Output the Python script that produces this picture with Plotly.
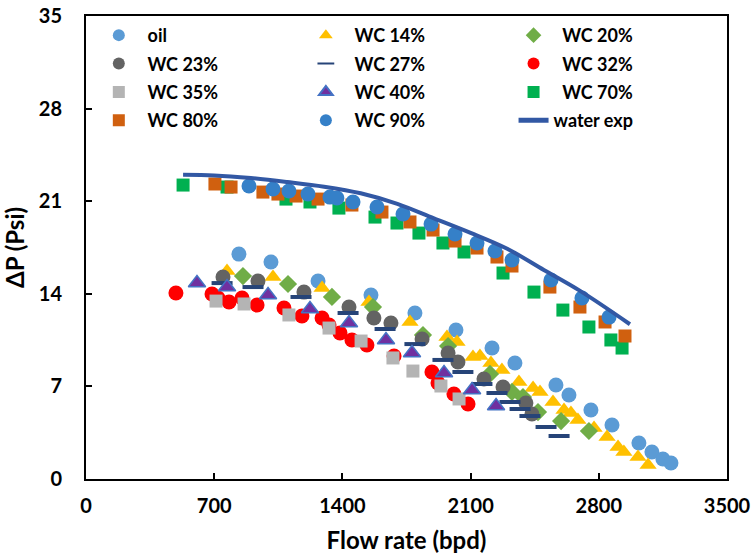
import plotly.graph_objects as go

# ---------------- data ----------------
oil_x = [835, 1010, 1267, 1556, 1796, 2020, 2217, 2342, 2566, 2637, 2757, 2872, 3019, 3090, 3150, 3194]
oil_y = [17.0, 16.4, 14.97, 13.9, 12.55, 11.26, 9.9, 8.77, 7.11, 6.35, 5.22, 4.08, 2.72, 2.04, 1.51, 1.21]

wc14_x = [770, 1021, 1289, 1545, 1769, 1971, 2026, 2113, 2151, 2211, 2271, 2364, 2441, 2479, 2550, 2610, 2648, 2686, 2774, 2845, 2905, 2937, 3014, 3069]
wc14_y = [15.72, 15.27, 14.44, 13.38, 11.87, 10.73, 10.36, 9.22, 9.3, 8.77, 8.24, 7.33, 6.88, 6.58, 5.82, 5.22, 4.99, 4.46, 3.85, 3.17, 2.42, 2.04, 1.66, 1.06]

wc20_x = [857, 1103, 1343, 1567, 1840, 1977, 2206, 2326, 2386, 2468, 2594, 2746]
wc20_y = [15.34, 14.74, 13.76, 13.0, 10.88, 10.05, 7.94, 6.58, 6.2, 5.06, 4.38, 3.63]

wc23_x = [748, 939, 1190, 1436, 1572, 1665, 1835, 1977, 2031, 2173, 2277, 2402, 2435]
wc23_y = [15.27, 14.97, 14.13, 13.0, 12.17, 11.79, 10.58, 9.52, 8.84, 7.56, 6.95, 5.74, 4.91]

wc27_x = [743, 912, 1174, 1431, 1633, 1796, 1949, 2058, 2162, 2244, 2315, 2370, 2424, 2512, 2583]
wc27_y = [14.81, 14.51, 13.76, 12.55, 11.34, 10.2, 9.0, 8.09, 7.18, 6.5, 5.82, 5.29, 4.76, 3.93, 3.25]

wc32_x = [491, 688, 721, 781, 852, 934, 1081, 1179, 1289, 1327, 1387, 1452, 1534, 1682, 1889, 1922, 2009, 2086]
wc32_y = [14.06, 13.98, 13.68, 13.38, 13.68, 13.15, 12.93, 12.32, 12.17, 11.64, 11.04, 10.51, 10.13, 9.3, 8.09, 7.26, 6.42, 5.67]

wc35_x = [710, 863, 1108, 1327, 1502, 1676, 1785, 1938, 2037]
wc35_y = [13.45, 13.23, 12.4, 11.41, 10.43, 9.15, 8.16, 7.03, 6.05]

wc40_x = [606, 770, 994, 1223, 1436, 1638, 1780, 1955, 2108, 2239]
wc40_y = [14.81, 14.51, 13.91, 12.85, 11.79, 10.51, 9.52, 8.01, 6.73, 5.52]

wc70_x = [530, 770, 1092, 1223, 1381, 1578, 1698, 1818, 1949, 2064, 2277, 2446, 2604, 2746, 2866, 2927]
wc70_y = [22.22, 22.07, 21.16, 20.94, 20.48, 19.8, 19.35, 18.59, 17.84, 17.16, 15.57, 14.13, 12.77, 11.49, 10.51, 9.9]

wc80_x = [704, 792, 966, 1048, 1147, 1267, 1452, 1616, 1769, 1895, 2015, 2135, 2244, 2326, 2533, 2697, 2834, 2943]
wc80_y = [22.3, 22.07, 21.69, 21.54, 21.39, 21.16, 20.71, 20.18, 19.43, 18.82, 17.99, 17.46, 16.78, 16.1, 14.51, 13.0, 11.87, 10.81]

wc90_x = [890, 1021, 1108, 1212, 1332, 1370, 1458, 1589, 1731, 1884, 2015, 2135, 2233, 2326, 2539, 2708, 2856]
wc90_y = [22.15, 21.92, 21.77, 21.54, 21.31, 21.24, 20.94, 20.56, 20.03, 19.27, 18.52, 17.84, 17.23, 16.55, 15.04, 13.68, 12.24]

water_x = [530, 700, 900, 1100, 1300, 1500, 1700, 1900, 2100, 2300, 2500, 2700, 2970]
water_y = [23.0, 22.95, 22.75, 22.45, 22.1, 21.6, 20.8, 19.7, 18.6, 17.4, 15.8, 14.2, 11.7]

x_ticks = [0, 700, 1400, 2100, 2800, 3500]
y_ticks = [0, 7, 14, 21, 28, 35]

FONT = "Lato"
PAD = "\u00a0\u00a0"

fig = go.Figure()

def add_marker(x, y, name, symbol, color, size, legend, line=None):
    fig.add_trace(go.Scatter(
        x=x, y=y, mode="markers", name=PAD + name, legend=legend, legendgroup=name,
        marker=dict(symbol=symbol, color=color, size=size,
                    line=line if line else dict(width=0)),
    ))

add_marker(oil_x, oil_y, "oil", "circle", "#5B9BD5", 15, "legend")
add_marker(wc14_x, wc14_y, "WC 14%", "triangle-up", "#FFC000", 15, "legend2")
add_marker(wc20_x, wc20_y, "WC 20%", "diamond", "#70AD47", 14, "legend3")
add_marker(wc23_x, wc23_y, "WC 23%", "circle", "#636363", 15, "legend")
add_marker(wc27_x, wc27_y, "WC 27%", "line-ew", "#264478", 15, "legend2",
           line=dict(width=4, color="#264478"))
add_marker(wc32_x, wc32_y, "WC 32%", "circle", "#FF0000", 15, "legend3")
add_marker(wc35_x, wc35_y, "WC 35%", "square", "#B4B4B4", 13, "legend")
add_marker(wc40_x, wc40_y, "WC 40%", "triangle-up", "#7030A0", 15, "legend2",
           line=dict(width=1.5, color="#4472C4"))
add_marker(wc70_x, wc70_y, "WC 70%", "square", "#00B050", 13, "legend3")
add_marker(wc80_x, wc80_y, "WC 80%", "square", "#D0600F", 13, "legend")
add_marker(wc90_x, wc90_y, "WC 90%", "circle", "#3580C8", 15, "legend2")
fig.add_trace(go.Scatter(
    x=water_x, y=water_y, mode="lines", name="water exp", legend="legend3",
    legendgroup="water exp", line=dict(color="#3258A4", width=4, shape="spline"),
))

legend_common = dict(
    orientation="v", xanchor="left", yanchor="top", y=0.998,
    font=dict(family=FONT, size=18, color="black", weight="bold"),
    bgcolor="rgba(0,0,0,0)", itemsizing="constant", tracegroupgap=2,
)
fig.update_layout(
    legend=dict(x=0.02, **legend_common),
    legend2=dict(x=0.343, **legend_common),
    legend3=dict(x=0.667, **legend_common),
)

fig.update_layout(
    width=754, height=554,
    margin=dict(l=86, r=27, t=16, b=75),
    paper_bgcolor="white", plot_bgcolor="white",
    font=dict(family=FONT, color="black"),
    xaxis=dict(
        range=[0, 3500], tickvals=x_ticks, ticktext=[str(v) for v in x_ticks],
        showgrid=False, zeroline=False, showline=True, linecolor="black",
        linewidth=2, mirror=True, ticks="inside", ticklen=6, tickwidth=2,
        tickcolor="black", ticklabelstandoff=8, automargin=False,
        tickfont=dict(family=FONT, size=20, color="black", weight="bold"),
        title=dict(text="<b>Flow rate (bpd)</b>", standoff=16,
                   font=dict(family=FONT, size=24, color="black")),
    ),
    yaxis=dict(
        range=[0, 35], tickvals=y_ticks, ticktext=[str(v) for v in y_ticks],
        showgrid=False, zeroline=False, showline=True, linecolor="black",
        linewidth=2, mirror=True, ticks="inside", ticklen=6, tickwidth=2,
        tickcolor="black", ticklabelstandoff=18, automargin=False,
        tickfont=dict(family=FONT, size=20, color="black", weight="bold"),
        title=dict(text="<b>ΔP (Psi)</b>", standoff=12,
                   font=dict(family=FONT, size=24, color="black")),
    ),
)

fig.write_html("out.html")
